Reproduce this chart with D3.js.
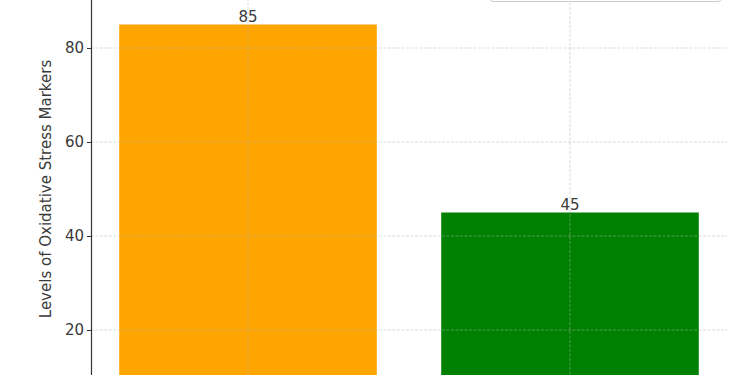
<!DOCTYPE html>
<html>
<head>
<meta charset="utf-8">
<script src="https://cdn.jsdelivr.net/npm/d3@7"></script>
<style>
  html, body { margin: 0; padding: 0; background: #fff; }
  svg { display: block; font-family: "DejaVu Sans", sans-serif; }
</style>
</head>
<body>
<svg id="chart" width="750" height="375"></svg>
<script>
// Oxidative stress marker levels per group
const categories = ["Group A", "Group B"];
const values = [85, 45];
const barColors = ["#FFA500", "#008000"];
const yTicks = [20, 40, 60, 80];
const yLabel = "Levels of Oxidative Stress Markers";

const svg = d3.select("#chart");
const left = 91, right = 727;

const x = d3.scaleBand()
  .domain(categories)
  .range([left, right])
  .paddingInner(0.2)
  .paddingOuter(0.0876);

const y = d3.scaleLinear().domain([0, 100]).range([424, -46]);

// bars
svg.append("g").selectAll("rect")
  .data(values)
  .join("rect")
  .attr("x", (d, i) => x(categories[i]))
  .attr("width", x.bandwidth())
  .attr("y", d => y(d))
  .attr("height", d => y(0) - y(d))
  .attr("fill", (d, i) => barColors[i]);

// dashed grid drawn over the bars
const grid = svg.append("g")
  .attr("stroke", "#b0b0b0")
  .attr("stroke-opacity", 0.6)
  .attr("stroke-width", 0.8)
  .attr("stroke-dasharray", "3,1.5");
grid.selectAll("line.h")
  .data(yTicks)
  .join("line")
  .attr("class", "h")
  .attr("x1", left).attr("x2", right)
  .attr("y1", d => y(d)).attr("y2", d => y(d));
grid.selectAll("line.v")
  .data(categories)
  .join("line")
  .attr("class", "v")
  .attr("x1", d => x(d) + x.bandwidth() / 2)
  .attr("x2", d => x(d) + x.bandwidth() / 2)
  .attr("y1", y(0)).attr("y2", y(100));

// value labels
svg.append("g").selectAll("text")
  .data(values)
  .join("text")
  .attr("x", (d, i) => x(categories[i]) + x.bandwidth() / 2)
  .attr("y", d => y(d) - 3)
  .attr("text-anchor", "middle")
  .attr("font-size", 15)
  .attr("fill", "#3a3a3a")
  .text(d => d);

// y axis
const yAxis = svg.append("g")
  .attr("transform", `translate(${left},0)`)
  .call(d3.axisLeft(y).tickValues(yTicks).tickSize(4).tickPadding(3));
yAxis.select(".domain").attr("stroke", "#333").attr("stroke-width", 1.2);
yAxis.selectAll(".tick line").attr("stroke", "#333");
yAxis.selectAll(".tick text")
  .attr("font-size", 15)
  .attr("fill", "#3a3a3a")
  .attr("font-family", "DejaVu Sans, sans-serif");

svg.append("text")
  .attr("transform", `translate(51,${y(50)}) rotate(-90)`)
  .attr("text-anchor", "middle")
  .attr("font-size", 15)
  .attr("fill", "#3a3a3a")
  .text(yLabel);

// legend frame (upper right)
svg.append("rect")
  .attr("x", 490).attr("y", -40)
  .attr("width", 231).attr("height", 41.5)
  .attr("rx", 3)
  .attr("fill", "#fff")
  .attr("fill-opacity", 0.8)
  .attr("stroke", "#ccc")
  .attr("stroke-width", 1);
</script>
</body>
</html>
